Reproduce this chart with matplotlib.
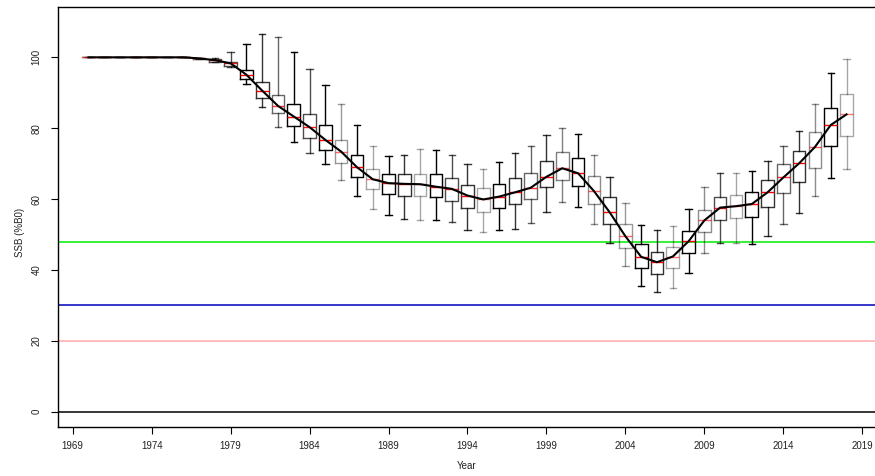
import numpy as np
import matplotlib
matplotlib.use('Agg')
import matplotlib.pyplot as plt

plt.rcParams['font.family'] = ['Liberation Sans', 'DejaVu Sans']

# Years and box statistics (SSB as % of B0)
years = list(range(1970, 2019))
med = [100, 100, 100, 100, 100, 100, 100, 99.7, 99.2, 98.3,
       95.1, 90.6, 86.3, 83.3, 80.3, 76.7, 73.4, 69.0, 65.6, 64.5,
       64.3, 64.2, 63.5, 62.9, 61.0, 59.9, 60.7, 61.9, 63.2, 66.3,
       68.7, 67.3, 62.3, 56.3, 49.5, 43.7, 42.2, 43.8, 48.1, 54.0,
       57.6, 58.0, 58.6, 61.9, 66.1, 70.1, 74.7, 80.9, 83.9]
q1 = [100, 100, 100, 100, 100, 100, 100, 99.5, 98.8, 97.6,
      94.0, 88.6, 84.2, 80.5, 77.1, 73.8, 70.3, 66.1, 62.8, 61.3,
      61.0, 60.8, 60.5, 59.5, 57.4, 56.3, 57.4, 58.6, 59.9, 63.3,
      65.3, 63.6, 58.5, 52.9, 46.1, 40.5, 38.9, 40.5, 44.9, 50.6,
      54.2, 54.7, 55.0, 57.8, 61.7, 64.7, 68.7, 75.0, 77.8]
q3 = [100, 100, 100, 100, 100, 100, 100, 99.8, 99.6, 98.8,
      96.3, 93.1, 89.5, 86.7, 84.1, 80.8, 76.7, 72.5, 68.6, 67.2,
      67.2, 67.2, 67.0, 65.9, 63.9, 63.0, 64.2, 65.9, 67.4, 70.8,
      73.4, 71.7, 66.6, 60.5, 53.0, 47.2, 45.1, 46.6, 51.1, 57.0,
      60.5, 61.1, 61.9, 65.3, 70.0, 73.6, 79.0, 85.6, 89.7]
lo = [100, 100, 100, 100, 100, 100, 100, 99.4, 98.7, 97.4,
      92.6, 86.1, 80.3, 76.1, 73.1, 69.8, 65.3, 60.9, 57.2, 55.6,
      54.4, 54.2, 54.2, 53.6, 51.4, 50.6, 51.4, 51.6, 53.2, 56.4,
      59.2, 57.8, 53.0, 47.5, 41.2, 35.6, 33.9, 35.0, 39.2, 44.7,
      47.6, 47.6, 47.3, 49.5, 53.0, 56.1, 60.8, 65.9, 68.6]
hi = [100, 100, 100, 100, 100, 100, 100, 99.9, 99.8, 101.4,
      103.9, 106.7, 105.8, 101.4, 96.6, 92.2, 86.9, 80.8, 75.1, 72.2,
      72.5, 74.2, 73.8, 72.5, 70.0, 68.6, 70.5, 73.1, 75.1, 78.0,
      80.2, 78.3, 72.5, 66.1, 58.9, 52.8, 51.2, 52.5, 57.3, 63.3,
      67.3, 67.3, 67.8, 70.8, 75.1, 79.1, 86.9, 95.7, 99.4]

# reference levels
ref_levels = [0, 20, 30, 47.8]
ref_colors = ['black', '#ffaaaa', '#0000bb', '#00ee00']

# per-box transparency (boxes are drawn with varying shades)
box_alpha = [0.4, 0.5, 0.4, 0.6, 0.5, 0.4, 0.6, 0.6, 0.7, 0.7,
             1.0, 0.8, 0.6, 1.0, 0.7, 1.0, 0.4, 1.0, 0.35, 1.0,
             0.8, 0.35, 1.0, 0.7, 0.8, 0.35, 1.0, 0.8, 0.6, 0.8,
             0.5, 1.0, 0.45, 0.8, 0.4, 1.0, 0.8, 0.35, 1.0, 0.45,
             0.7, 0.35, 1.0, 0.8, 0.6, 0.8, 0.45, 1.0, 0.35]

fig = plt.figure(figsize=(8.75, 4.76), dpi=100)
ax = fig.add_axes([58 / 875, 49 / 476, 822 / 875, 420 / 476])

for lev, col in zip(ref_levels, ref_colors):
    ax.axhline(lev, color=col, lw=1.1, zorder=1)

stats = []
for i in range(len(years)):
    stats.append(dict(med=med[i], q1=q1[i], q3=q3[i], whislo=lo[i], whishi=hi[i]))

art = ax.bxp(stats, positions=years, widths=0.8, showfliers=False,
             manage_ticks=False, patch_artist=False,
             boxprops=dict(color='black', lw=1.0),
             whiskerprops=dict(color='black', lw=1.0, linestyle='-'),
             capprops=dict(color='black', lw=1.0),
             medianprops=dict(color='red', lw=1.0),
             capwidths=0.4)

for i, a in enumerate(box_alpha):
    art['boxes'][i].set_alpha(a)
    art['medians'][i].set_alpha(min(1.0, a + 0.2))
    for k in (2 * i, 2 * i + 1):
        art['whiskers'][k].set_alpha(a)
        art['caps'][k].set_alpha(a)

ax.plot(years, med, color='black', lw=1.5, zorder=5)

ax.set_xlim(1968.07, 2020.12)
ax.set_ylim(-4.3, 114.2)
ax.set_xticks(range(1969, 2020, 5))
ax.set_yticks([0, 20, 40, 60, 80, 100])
ax.tick_params(axis='both', direction='out', length=5, width=0.8,
               labelsize=7, colors='black', labelcolor='#222222')
ax.tick_params(axis='x', pad=5)
ax.tick_params(axis='y', pad=7)
for lab in ax.get_yticklabels():
    lab.set_rotation(90)
    lab.set_va('center')
ax.spines['right'].set_visible(False)
for s in ('left', 'bottom', 'top'):
    ax.spines[s].set_linewidth(1.0)

fig.text(20 / 875, 1 - 232 / 476, 'SSB (%B0)', rotation=90, ha='center',
         va='center', fontsize=7, color='#222222')
fig.text(0.5 * (58 + 875) / 875, 1 - 466 / 476, 'Year', ha='center',
         va='center', fontsize=7, color='#222222')

fig.savefig('out.png', dpi=100)
